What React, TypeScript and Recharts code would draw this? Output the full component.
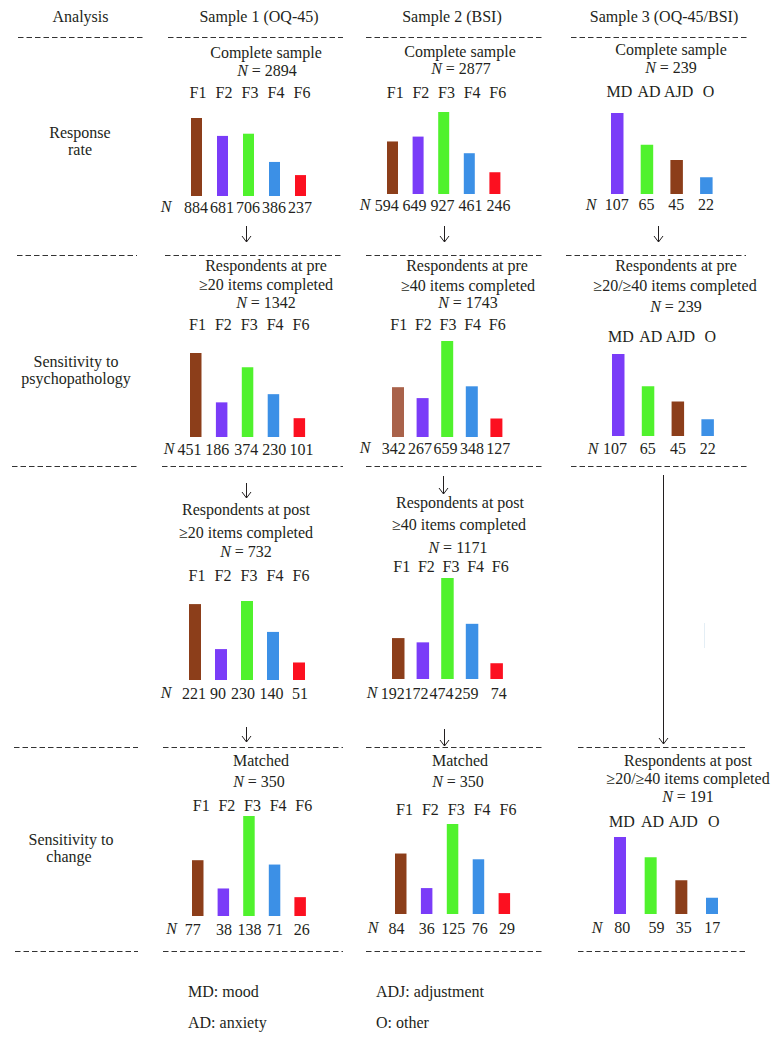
import React from 'react';
import { BarChart, Bar, XAxis, YAxis, Cell } from 'recharts';

const FONT = 'Liberation Serif, DejaVu Serif, Times New Roman, serif';
const INK = '#231f20';

// ---- categories ----
const factorCats = ['F1', 'F2', 'F3', 'F4', 'F6'];
const diagCats = ['MD', 'AD', 'AJD', 'O'];

// ---- series values (N per category) ----
const s1Complete = [884, 681, 706, 386, 237];
const s2Complete = [594, 649, 927, 461, 246];
const s3Complete = [107, 65, 45, 22];
const s1Pre = [451, 186, 374, 230, 101];
const s2Pre = [342, 267, 659, 348, 127];
const s3Pre = [107, 65, 45, 22];
const s1Post = [221, 90, 230, 140, 51];
const s2Post = [192, 172, 474, 259, 74];
const s1Matched = [77, 38, 138, 71, 26];
const s2Matched = [84, 36, 125, 76, 29];
const s3Post = [80, 59, 35, 17];

// ---- colours ----
const BROWN = '#8c3e1a';
const LIGHTBROWN = '#a9624a';
const PURPLE = '#7a3cf8';
const GREEN = '#50f22d';
const BLUE = '#3c90e6';
const RED = '#fc1020';
const factorColors = [BROWN, PURPLE, GREEN, BLUE, RED];
const factorColorsPre2 = [LIGHTBROWN, PURPLE, GREEN, BLUE, RED];
const diagColors = [PURPLE, GREEN, BROWN, BLUE];

type Lay = {
  left: number; band: number; barSize: number; bottom: number; barTop: number;
  labelY: number; nY: number; nX: number; labelDx: number; nDx?: number[];
};

const textStyle: React.CSSProperties = { fontFamily: FONT, fontSize: 16 };

function MiniBars({ cats, values, colors, lay }: { cats: string[]; values: number[]; colors: string[]; lay: Lay }) {
  const n = cats.length;
  const plotTop = lay.labelY + 7;
  const plotH = lay.bottom - plotTop;
  const maxV = Math.max(...values);
  const domainMax = (maxV * plotH) / (lay.bottom - lay.barTop);
  const M = 20;
  const AX = 26;
  const width = lay.band * n + 2 * M;
  const height = plotH + 2 * AX;
  const data = cats.map((c, i) => ({ cat: c, value: values[i] }));
  const bottomGap = lay.nY - 5 - lay.bottom;
  return (
    <div style={{ position: 'absolute', left: lay.left - M, top: plotTop - AX }}>
      <BarChart width={width} height={height} data={data} margin={{ top: 0, right: M, bottom: 0, left: M }}>
        <XAxis
          xAxisId="top"
          orientation="top"
          dataKey="cat"
          height={AX}
          axisLine={false}
          tickLine={false}
          tickSize={0}
          tickMargin={2}
          interval={0}
          tick={(p: any) => (
            <text x={p.x + lay.labelDx} y={p.y} textAnchor="middle" style={textStyle} fill={INK}>
              {p.payload.value}
            </text>
          )}
        />
        <XAxis
          xAxisId="bottom"
          orientation="bottom"
          dataKey="cat"
          height={AX}
          axisLine={false}
          tickLine={false}
          tickSize={0}
          tickMargin={bottomGap}
          interval={0}
          tick={(p: any) => {
            const idx = cats.indexOf(p.payload.value);
            const dx = lay.nDx ? lay.nDx[idx] : 0;
            return (
              <text x={p.x + dx} y={p.y + 10.5} textAnchor="middle" style={textStyle} fill={INK}>
                {values[idx]}
              </text>
            );
          }}
        />
        <YAxis hide type="number" domain={[0, domainMax]} allowDataOverflow />
        <Bar xAxisId="bottom" dataKey="value" barSize={lay.barSize} isAnimationActive={false}>
          {data.map((d, i) => (
            <Cell key={d.cat} fill={colors[i]} />
          ))}
        </Bar>
      </BarChart>
    </div>
  );
}

const panels: { cats: string[]; values: number[]; colors: string[]; lay: Lay }[] = [
  { cats: factorCats, values: s1Complete, colors: factorColors, lay: { left: 182.5, band: 26, barSize: 11, bottom: 196, barTop: 118, labelY: 93, nY: 207, nX: 166, labelDx: 2 } },
  { cats: factorCats, values: s2Complete, colors: factorColors, lay: { left: 379.5, band: 25.6, barSize: 11, bottom: 194, barTop: 112, labelY: 93, nY: 205, nX: 365, labelDx: 2.5, nDx: [-6, -4, -1.5, 1, 3.3] } },
  { cats: diagCats, values: s3Complete, colors: diagColors, lay: { left: 601.7, band: 29.7, barSize: 12.5, bottom: 194, barTop: 113, labelY: 92, nY: 205, nX: 591, labelDx: 2.5 } },
  { cats: factorCats, values: s1Pre, colors: factorColors, lay: { left: 182.6, band: 25.9, barSize: 11.5, bottom: 437, barTop: 353, labelY: 325, nY: 449, nX: 169, labelDx: 1.5, nDx: [-6.5, -4.5, -1.5, 0.5, 2] } },
  { cats: factorCats, values: s2Pre, colors: factorColorsPre2, lay: { left: 385.7, band: 24.6, barSize: 12, bottom: 437, barTop: 341, labelY: 325, nY: 448, nX: 365, labelDx: 0.5, nDx: [-4.5, -3, -2, 0, 1.5] } },
  { cats: diagCats, values: s3Pre, colors: diagColors, lay: { left: 603.1, band: 29.8, barSize: 12.5, bottom: 436, barTop: 354, labelY: 337, nY: 449, nX: 593, labelDx: 3, nDx: [-3, 0, 0.5, 0.5] } },
  { cats: factorCats, values: s1Post, colors: factorColors, lay: { left: 182, band: 26, barSize: 12, bottom: 680, barTop: 601, labelY: 576, nY: 693, nX: 166, labelDx: 2, nDx: [-1, -3, -4, -1.5, 1] } },
  { cats: factorCats, values: s2Post, colors: factorColors, lay: { left: 385.7, band: 24.6, barSize: 12.5, bottom: 679, barTop: 578, labelY: 567, nY: 693, nX: 372, labelDx: 3.5, nDx: [-5.5, -6.5, -6, -5.5, 2] } },
  { cats: factorCats, values: s1Matched, colors: factorColors, lay: { left: 185.2, band: 25.6, barSize: 11.5, bottom: 916, barTop: 816, labelY: 806, nY: 929, nX: 171.5, labelDx: 3.5, nDx: [-5, 0.5, 0.5, 0.5, 1.5] } },
  { cats: factorCats, values: s2Matched, colors: factorColors, lay: { left: 388, band: 25.9, barSize: 11.5, bottom: 914, barTop: 824, labelY: 810, nY: 928, nX: 373, labelDx: 3.5, nDx: [-4.5, 0, 0.5, 1, 2.5] } },
  { cats: diagCats, values: s3Post, colors: diagColors, lay: { left: 604.7, band: 30.67, barSize: 12, bottom: 914, barTop: 837, labelY: 822, nY: 928, nX: 597, labelDx: 1.5, nDx: [2, 5.5, 2, 0] } },
];

// text lines: [centerX, centerY, text, italicN?]
const texts: [number, number, string, boolean][] = [
  [80.5, 17, 'Analysis', false],
  [259, 17, 'Sample 1 (OQ-45)', false],
  [452, 17, 'Sample 2 (BSI)', false],
  [664, 17, 'Sample 3 (OQ-45/BSI)', false],
  [80, 133, 'Response', false],
  [80, 150, 'rate', false],
  [76, 362, 'Sensitivity to', false],
  [76, 379, 'psychopathology', false],
  [71, 840, 'Sensitivity to', false],
  [69, 857, 'change', false],
  [266, 53, 'Complete sample', false],
  [267, 71, ' = 2894', true],
  [460, 52, 'Complete sample', false],
  [461, 69, ' = 2877', true],
  [671, 50, 'Complete sample', false],
  [671, 68, ' = 239', true],
  [266, 266, 'Respondents at pre', false],
  [266, 285, '≥20 items completed', false],
  [266, 303, ' = 1342', true],
  [467, 266, 'Respondents at pre', false],
  [468, 286, '≥40 items completed', false],
  [468, 303, ' = 1743', true],
  [676, 266, 'Respondents at pre', false],
  [675, 286, '≥20/≥40 items completed', false],
  [676, 307, ' = 239', true],
  [246, 510, 'Respondents at post', false],
  [246, 533, '≥20 items completed', false],
  [246, 552, ' = 732', true],
  [460, 503, 'Respondents at post', false],
  [459, 525, '≥40 items completed', false],
  [458, 548, ' = 1171', true],
  [261, 761, 'Matched', false],
  [259, 782, ' = 350', true],
  [460, 761, 'Matched', false],
  [458, 782, ' = 350', true],
  [688, 761, 'Respondents at post', false],
  [688, 779, '≥20/≥40 items completed', false],
  [688, 797, ' = 191', true],
];

const legend: [number, number, string][] = [
  [188, 992, 'MD: mood'],
  [188, 1023, 'AD: anxiety'],
  [376, 992, 'ADJ: adjustment'],
  [376, 1023, 'O: other'],
];

// dashed separators: [y, x1, x2]
const dashes: [number, number, number][] = [
  [37, 18, 144], [37, 168, 343], [37, 366, 544], [37, 571, 747],
  [255, 17, 137], [255, 165, 343], [255, 366, 544], [255, 566, 746],
  [466, 12, 137], [466, 162, 343], [466, 366, 544], [466, 571, 747],
  [747, 14, 138], [747, 163, 343], [747, 366, 544], [747, 578, 746],
  [951, 15, 138], [951, 163, 343], [951, 366, 544], [951, 578, 745],
];

// arrows: [x, y1, y2]
const arrows: [number, number, number][] = [
  [246, 226, 242], [444, 226, 242], [658, 226, 242],
  [246, 483, 498], [443, 476, 494],
  [246, 727, 742], [444, 729, 746],
  [663, 475, 744],
];

export default function App() {
  return (
    <div style={{ position: 'absolute', left: 0, top: 0, width: 782, height: 1042, background: '#fff', overflow: 'hidden', fontFamily: FONT }}>
      <svg width={782} height={1042} style={{ position: 'absolute', left: 0, top: 0 }}>
        {dashes.map(([y, x1, x2], i) => (
          <line key={'d' + i} x1={x1} x2={x2} y1={y + 0.5} y2={y + 0.5} stroke="#333" strokeWidth={1} strokeDasharray="5.5 3" />
        ))}
        {arrows.map(([x, y1, y2], i) => (
          <g key={'a' + i} stroke={INK} strokeWidth={1} fill="none">
            <line x1={x + 0.5} x2={x + 0.5} y1={y1} y2={y2} />
            <polyline points={`${x - 4},${y2 - 6} ${x + 0.5},${y2} ${x + 5},${y2 - 6}`} />
          </g>
        ))}
        <line x1={704.5} x2={704.5} y1={623} y2={648} stroke="#e4eef5" strokeWidth={1} />
        {texts.map(([x, y, t, italic], i) => (
          <text key={'t' + i} x={x} y={y + 5} textAnchor="middle" style={textStyle} fill={INK}>
            {italic ? <tspan fontStyle="italic">N</tspan> : null}
            {t}
          </text>
        ))}
        {panels.map((p, i) => (
          <text key={'n' + i} x={p.lay.nX} y={p.lay.nY + 5} textAnchor="middle" style={textStyle} fontStyle="italic" fill={INK}>
            N
          </text>
        ))}
        {legend.map(([x, y, t], i) => (
          <text key={'l' + i} x={x} y={y + 5} style={textStyle} fill={INK}>
            {t}
          </text>
        ))}
      </svg>
      {panels.map((p, i) => (
        <MiniBars key={i} cats={p.cats} values={p.values} colors={p.colors} lay={p.lay} />
      ))}
    </div>
  );
}
